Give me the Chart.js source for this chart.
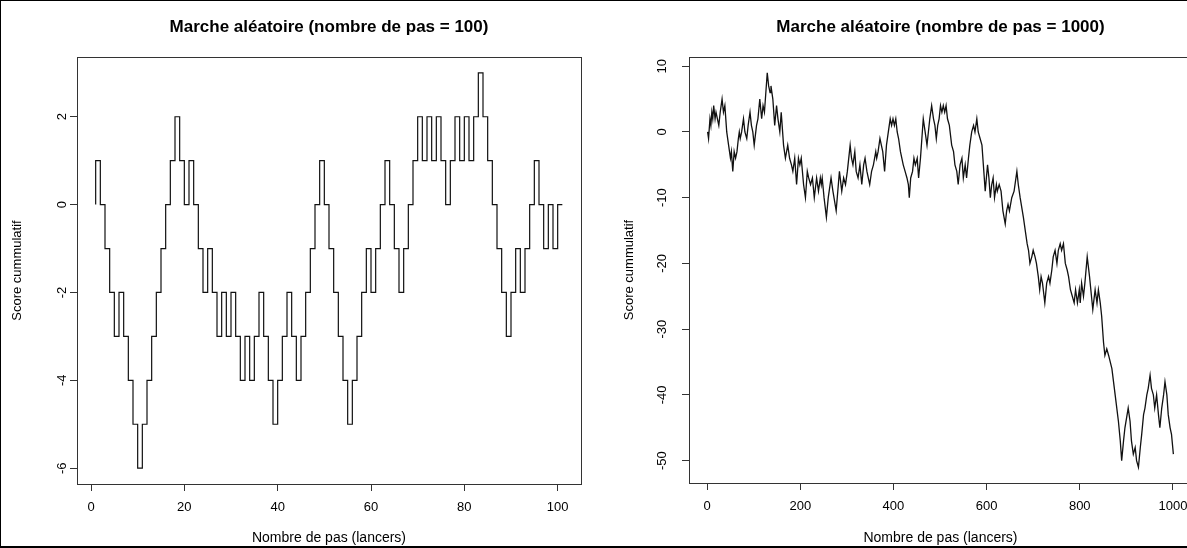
<!DOCTYPE html>
<html><head><meta charset="utf-8">
<script src="https://cdn.jsdelivr.net/npm/chart.js@4.4.1/dist/chart.umd.min.js"></script>
<style>
html,body{margin:0;padding:0;background:#fff;overflow:hidden;width:1187px;height:548px;}
#frame{position:absolute;left:0;top:0;width:1187px;height:548px;border-left:1px solid #000;border-top:1px solid #000;border-bottom:2px solid #000;box-sizing:border-box;pointer-events:none;}
#c1{position:absolute;left:0;top:0;}
#c2{position:absolute;left:612px;top:0;}
</style></head><body>
<canvas id="c1" width="612" height="548"></canvas>
<canvas id="c2" width="640" height="548"></canvas>
<div id="frame"></div>
<script>
const title100 = 'Marche aléatoire (nombre de pas = 100)';
const title1000 = 'Marche aléatoire (nombre de pas = 1000)';
const xLabel = 'Nombre de pas (lancers)';
const yLabel = 'Score cummulatif';

// 100-step walk: score after each step (x = 1..101)
const walk100 = [0,
  1,0,-1,-2,-3,-2,-3,-4,-5,-6,
  -5,-4,-3,-2,-1,0,1,2,1,0,
  1,0,-1,-2,-1,-2,-3,-2,-3,-2,
  -3,-4,-3,-4,-3,-2,-3,-4,-5,-4,
  -3,-2,-3,-4,-3,-2,-1,0,1,0,
  -1,-2,-3,-4,-5,-4,-3,-2,-1,-2,
  -1,0,1,0,-1,-2,-1,0,1,2,
  1,2,1,2,1,0,1,2,1,2,
  1,2,3,2,1,0,-1,-2,-3,-2,
  -1,-2,-1,0,1,0,-1,0,-1,0];

// 1000-step walk: turning points (step index, score)
const walk1000Steps = [0,2,5,7,9,11,13,16,18,21,24,27,31,34,37,41,45,49,51,54,57,60,63,66,68,70,73,77,80,84,87,91,94,97,100,
  105,108,112,116,119,122,128,131,134,136,140,144,148,151,155,158,163,167,172,176,180,183,187,191,195,198,
  201,206,210,214,217,221,225,229,234,238,242,244,246,250,255,259,265,269,276,283,288,292,296,300,
  306,309,312,316,319,323,327,331,335,338,342,348,352,356,361,363,366,370,373,376,380,384,388,392,395,398,
  401,404,407,410,414,420,424,428,431,433,436,440,443,446,450,453,457,463,467,471,474,477,481,485,488,491,494,497,
  500,503,506,509,512,515,519,524,528,531,535,538,542,546,549,553,556,560,563,567,571,574,578,581,585,589,592,596,
  601,604,607,610,613,616,620,622,626,630,634,639,642,645,648,653,658,664,667,671,678,682,686,689,692,696,699,
  703,706,710,713,716,719,724,728,732,735,739,742,746,750,753,757,760,764,768,772,775,779,783,787,790,794,798,
  800,803,807,810,815,820,827,832,836,839,843,846,850,853,857,861,868,875,882,886,889,893,896,
  903,907,910,914,918,921,925,929,932,936,939,943,946,950,953,957,960,964,968,971,975,979,982,986,989,993,996,1000];
const walk1000Values = [0,-1,2,1,3,2,4,2,3,2,1,3,5,3,4,0,-2,-4,-3,-6,-3,-4,-3,-1,0,-1,0,2,0,-1,1,3,1,0,-2,
  1,2,5,2,4,3,9,7,6,7,5,1,4,2,0,3,-2,-4,-2,-4,-5,-6,-4,-8,-4,-5,
  -4,-8,-10,-6,-7,-8,-7,-10,-7,-9,-7,-8,-7,-10,-13,-10,-7,-9,-12,-6,-9,-7,-8,-6,
  -2,-4,-5,-3,-6,-7,-5,-8,-5,-4,-6,-8,-6,-5,-3,-4,-3,-1,-2,-3,-6,-2,0,2,1,2,
  1,2,0,-1,-3,-5,-6,-7,-8,-10,-7,-6,-4,-5,-4,-7,-4,2,0,-2,0,2,4,2,1,-1,1,2,
  4,3,4,3,4,2,1,-2,-3,-5,-6,-8,-5,-4,-7,-5,-7,-4,-2,0,1,0,2,0,-1,-2,-5,-9,
  -5,-7,-10,-8,-7,-10,-8,-9,-8,-9,-12,-14,-12,-11,-12,-10,-9,-6,-8,-10,-13,-15,-17,-18,-20,-19,-18,
  -19,-20,-22,-24,-22,-23,-26,-23,-22,-23,-21,-19,-18,-20,-18,-17,-18,-17,-20,-21,-22,-24,-25,-26,-24,-26,-24,
  -26,-23,-25,-23,-19,-22,-27,-24,-26,-24,-26,-28,-32,-34,-33,-34,-36,-40,-44,-47,-50,-47,-45,
  -42,-44,-47,-49,-48,-50,-51,-48,-46,-43,-42,-40,-39,-37,-39,-40,-42,-40,-43,-45,-42,-40,-38,-40,-43,-45,-46,-49];

const xTicks100 = [0,20,40,60,80,100];
const yTicks100 = [-6,-4,-2,0,2];
const xTicks1000 = [0,200,400,600,800,1000];
const yTicks1000 = [-50,-40,-30,-20,-10,0,10];

Chart.defaults.font.family = '"Liberation Sans", Arial, Helvetica, sans-serif';
Chart.defaults.color = '#000';

function rRange(vals){
  const mn = Math.min(...vals), mx = Math.max(...vals);
  const p = (mx - mn) * 0.04;
  return [mn - p, mx + p];
}

const rFrame = {
  id: 'rFrame',
  afterDatasetsDraw(chart, args, opts) {
    const {ctx, chartArea: a} = chart;
    ctx.save();
    ctx.strokeStyle = '#333';
    ctx.lineWidth = 1;
    ctx.strokeRect(Math.round(a.left) + 0.5, Math.round(a.top) + 0.5,
                   Math.round(a.right - a.left), Math.round(a.bottom - a.top));
    ctx.font = 'bold 17px "Liberation Sans", Arial, sans-serif';
    ctx.fillStyle = '#000';
    ctx.textAlign = 'center';
    ctx.textBaseline = 'middle';
    ctx.fillText(opts.text, (a.left + a.right) / 2, opts.y);
    ctx.restore();
  }
};

function makeChart(id, points, stepped, xt, yt, title, cfg) {
  const xr = rRange(points.map(p => p.x));
  const yr = rRange(points.map(p => p.y));
  const gridOpts = {display: true, drawOnChartArea: false, drawTicks: true, tickLength: 7, color: '#333', lineWidth: 1};
  return new Chart(document.getElementById(id), {
    type: 'line',
    data: {datasets: [{
      data: points,
      stepped: stepped,
      borderColor: '#111',
      borderWidth: cfg.lw,
      pointRadius: 0,
      fill: false,
      tension: 0
    }]},
    options: {
      responsive: false,
      animation: false,
      devicePixelRatio: 1,
      layout: {padding: {left: 0, top: cfg.top, right: cfg.right, bottom: 0}},
      plugins: {legend: {display: false}, tooltip: {enabled: false}, rFrame: {text: title, y: 27}},
      scales: {
        x: {
          type: 'linear', min: xr[0], max: xr[1],
          afterBuildTicks: s => { s.ticks = xt.map(v => ({value: v})); },
          afterFit: s => { s.height = cfg.xh; },
          grid: gridOpts,
          border: {display: false},
          ticks: {color: '#000', font: {size: 13}, padding: 9, maxRotation: 0, autoSkip: false, callback: v => String(v)},
          title: {display: true, text: xLabel, color: '#000', font: {size: 14}, padding: {top: 0, bottom: 1}}
        },
        y: {
          type: 'linear', min: yr[0], max: yr[1],
          afterBuildTicks: s => { s.ticks = yt.map(v => ({value: v})); },
          afterFit: s => { s.width = 77; },
          grid: gridOpts,
          border: {display: false},
          ticks: {color: '#000', font: {size: 13}, padding: cfg.ypad, minRotation: 90, maxRotation: 90, crossAlign: 'center', autoSkip: false, callback: v => String(v)},
          title: {display: true, text: yLabel, color: '#000', font: {size: 13}, padding: {top: 10, bottom: 0}}
        }
      }
    },
    plugins: [rFrame]
  });
}

const pts100 = walk100.map((v, i) => ({x: i + 1, y: v}));
const pts1000 = walk1000Steps.map((s, i) => ({x: s + 1, y: walk1000Values[i]}));

makeChart('c1', pts100, 'after', xTicks100, yTicks100, title100, {top: 57, right: 612 - 581, xh: 64, ypad: 2, lw: 1.2});
makeChart('c2', pts1000, false, xTicks1000, yTicks1000, title1000, {top: 57, right: 640 - 580, xh: 65, ypad: 10, lw: 1.3});
</script>
</body></html>
